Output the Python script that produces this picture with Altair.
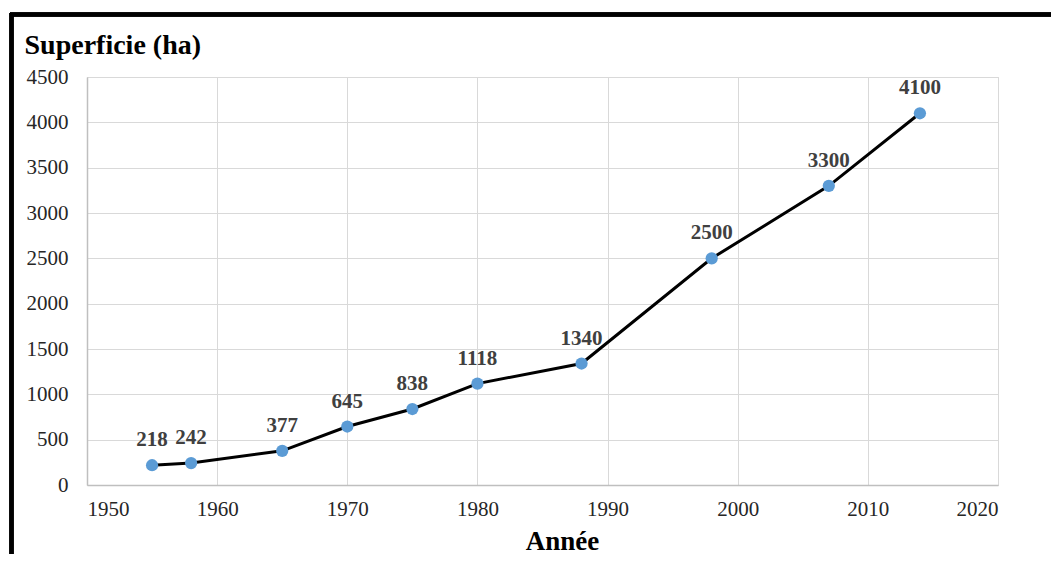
import altair as alt
import pandas as pd

years = [1955, 1958, 1965, 1970, 1975, 1980, 1988, 1998, 2007, 2014]
values = [218, 242, 377, 645, 838, 1118, 1340, 2500, 3300, 4100]
x_title = "Année"
y_title = "Superficie (ha)"

df = pd.DataFrame({"annee": years, "superficie": values})

FONT = "Liberation Serif"

x_enc = alt.X("annee:Q",
              scale=alt.Scale(domain=[1950, 2020], nice=False, zero=False),
              axis=alt.Axis(values=list(range(1950, 2021, 10)), format="d",
                            title=x_title, titleFont=FONT, titleFontSize=27,
                            titleFontWeight="bold", titleColor="#000000",
                            titleX=475, titleY=64, titleBaseline="alphabetic",
                            titleAnchor="start", titleAlign="center",
                            labelFont=FONT, labelFontSize=21, labelColor="#262626",
                            labelPadding=13, ticks=False,
                            domainColor="#bfbfbf", domainWidth=1.5,
                            gridColor="#d9d9d9", gridWidth=1))
y_enc = alt.Y("superficie:Q",
              scale=alt.Scale(domain=[0, 4500], nice=False),
              axis=alt.Axis(values=list(range(0, 4501, 500)), format="d",
                            title=y_title, titleFont=FONT, titleFontSize=28,
                            titleFontWeight="bold", titleColor="#000000",
                            titleAngle=0, titleX=-63, titleY=-32,
                            titleAlign="left", titleBaseline="middle",
                            labelFont=FONT, labelFontSize=21, labelColor="#262626",
                            labelPadding=19, ticks=False,
                            domainColor="#bfbfbf", domainWidth=1.5,
                            gridColor="#d9d9d9", gridWidth=1))

base = alt.Chart(df).encode(x=x_enc, y=y_enc)

line = base.mark_line(color="#000000", strokeWidth=3)
points = base.mark_circle(size=150, color="#5B9BD5", opacity=1)
labels = base.mark_text(font=FONT, fontSize=21, fontWeight="bold",
                        color="#404040", dy=-25, baseline="middle").encode(
    text=alt.Text("superficie:Q", format="d"))

left_border = alt.Chart(df).mark_rule(color="#000000", strokeWidth=3.5).encode(
    x=alt.value(-75.5), y=alt.value(-64), y2=alt.value(490))
top_border = alt.Chart(df).mark_rule(color="#000000", strokeWidth=3.5).encode(
    x=alt.value(-77), x2=alt.value(980), y=alt.value(-62.5))

chart = alt.layer(line, points, labels, left_border, top_border).properties(
    width=911, height=408,
    autosize=alt.AutoSizeParams(type="none"),
    padding={"left": 79, "top": 69, "right": 53, "bottom": 69},
    background="#ffffff",
).configure_view(stroke="#d9d9d9", strokeWidth=1)

chart.save("out.html", embed_options={"renderer": "svg", "actions": False})
